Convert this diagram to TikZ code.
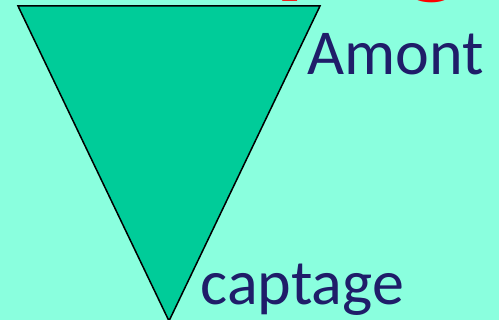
\documentclass[tikz,border=0pt]{standalone}
\usepackage{fontspec}
\setmainfont{Carlito}
\definecolor{fondo}{RGB}{138,255,222}
\definecolor{verde}{RGB}{0,204,153}
\definecolor{azul}{RGB}{31,29,105}
\begin{document}
\begin{tikzpicture}[x=1pt,y=-1pt,line width=1.5pt,
  rotulo/.style={inner sep=0pt,anchor=base west,text=azul,font=\fontsize{64}{64}\selectfont}]
  % fondo y recorte
  \useasboundingbox (0,0) rectangle (499,320);
  \fill[fondo] (0,0) rectangle (499,320);
  \clip (0,0) rectangle (499,320);
  % titulo (cortado arriba)
  \node[inner sep=0pt,anchor=base west,text=red,font=\bfseries\fontsize{120}{120}\selectfont] (titulo) at (161,-17){Topographique};
  % cono invertido
  \fill[verde] (18,6)--(320,6)--(169,321)--cycle; \draw (18,6)--(320,6)--(169,321)--cycle;
  % rotulos
  \node[rotulo] (amont) at (307,75){Amont};
  \node[rotulo] (captage) at (200,305){captage};
\end{tikzpicture}
\end{document}
